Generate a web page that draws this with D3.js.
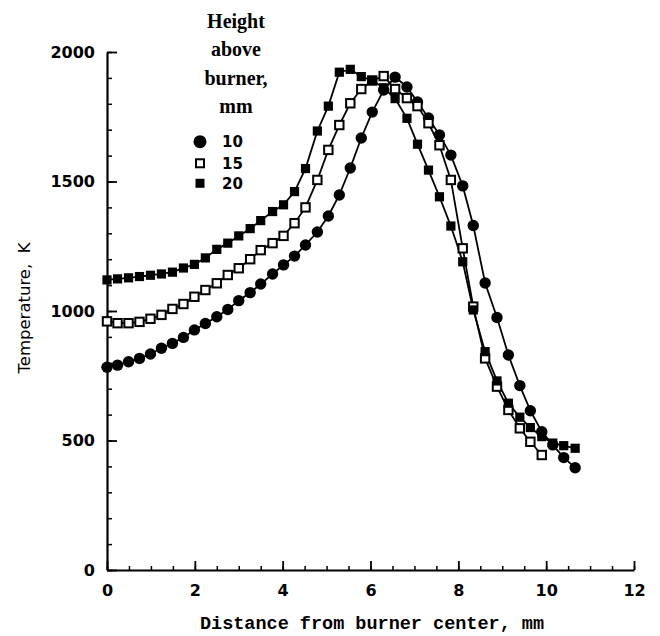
<!DOCTYPE html>
<html>
<head>
<meta charset="utf-8">
<script src="https://cdn.jsdelivr.net/npm/d3@7"></script>
<style>
  body { margin: 0; background: #fff; }
</style>
</head>
<body>
<div id="chart"></div>
<script>
// data (distance in mm, temperature in K)
var distance = [0, 0.24, 0.49, 0.74, 0.99, 1.24, 1.49, 1.74, 1.99, 2.24, 2.5, 2.75, 3.0, 3.26, 3.5, 3.77, 4.02, 4.27, 4.52, 4.79,
                5.04, 5.29, 5.54, 5.79, 6.04, 6.3, 6.56, 6.83, 7.07, 7.32, 7.57, 7.83, 8.1, 8.34, 8.61, 8.88, 9.14, 9.4, 9.64, 9.9,
                10.15, 10.4, 10.66];

var temp10 = [783, 791, 804, 817, 834, 856, 875, 898, 927, 952, 978, 1006, 1040, 1071, 1104, 1143, 1178, 1212, 1255, 1305,
              1367, 1448, 1552, 1668, 1768, 1853, 1903, 1865, 1807, 1745, 1680, 1602, 1483, 1330, 1108, 975, 830, 712, 615, 534,
              483, 434, 395];

var temp15 = [960, 953, 953, 958, 970, 985, 1008, 1027, 1055, 1081, 1107, 1139, 1165, 1200, 1235, 1262, 1290, 1339, 1400, 1506,
              1622, 1718, 1802, 1857, 1890, 1907, 1857, 1822, 1791, 1725, 1640, 1506, 1242, 1017, 817, 708, 618, 547, 495, 444];

var temp20 = [1120, 1124, 1128, 1133, 1138, 1143, 1150, 1166, 1180, 1205, 1238, 1262, 1290, 1318, 1349, 1384, 1410, 1461, 1550, 1695,
              1791, 1922, 1933, 1905, 1890, 1862, 1820, 1744, 1644, 1544, 1441, 1328, 1190, 1004, 843, 730, 644, 590, 550, 515,
              490, 480, 470];

var heights = ["10", "15", "20"];
var legendTitle = ["Height", "above", "burner,", "mm"];
var xTicks = [0, 2, 4, 6, 8, 10, 12];
var yTicks = [0, 500, 1000, 1500, 2000];

drawChart();

function drawChart() {
    var width = 660, height = 636;

    var svg = d3.select("#chart")
        .append("svg")
        .attr("width", width)
        .attr("height", height)
        .style("background", "#fff");

    var x = d3.scaleLinear().domain([0, 12]).range([107, 634]);
    var y = d3.scaleLinear().domain([0, 2000]).range([570, 52]);

    var tickFont = "'DejaVu Sans', sans-serif";

    // minor ticks first
    svg.append("g")
        .attr("transform", "translate(0,570)")
        .call(d3.axisBottom(x).tickValues(d3.range(0, 12.01, 0.5)).tickSize(-4).tickSizeOuter(0).tickFormat(""))
        .call(g => g.select(".domain").remove())
        .selectAll("line").attr("stroke-width", 1.5);

    svg.append("g")
        .attr("transform", "translate(107,0)")
        .call(d3.axisLeft(y).tickValues(d3.range(0, 2001, 100)).tickSize(-5).tickSizeOuter(0).tickFormat(""))
        .call(g => g.select(".domain").remove())
        .selectAll("line").attr("stroke-width", 1.5);

    // main axes
    var xAxis = svg.append("g")
        .attr("transform", "translate(0,570)")
        .call(d3.axisBottom(x).tickValues(xTicks).tickSize(-9).tickSizeOuter(0).tickPadding(15)
              .tickFormat(d3.format("d")));

    var yAxis = svg.append("g")
        .attr("transform", "translate(107,0)")
        .call(d3.axisLeft(y).tickValues(yTicks).tickSize(-10).tickSizeOuter(0).tickPadding(12)
              .tickFormat(d3.format("d")));

    [xAxis, yAxis].forEach(function(g) {
        g.select(".domain").attr("stroke-width", 2.2);
        g.selectAll(".tick line").attr("stroke-width", 1.8);
        g.selectAll(".tick text")
            .attr("fill", "#000")
            .style("font-family", tickFont)
            .style("font-weight", "bold")
            .style("font-size", "16px");
    });

    // axis titles
    svg.append("text")
        .attr("transform", "translate(30,308) rotate(-90)")
        .attr("text-anchor", "middle")
        .style("font-family", tickFont)
        .style("font-size", "16.5px")
        .style("white-space", "pre")
        .attr("xml:space", "preserve")
        .text("Temperature,  K");

    svg.append("text")
        .attr("x", 372)
        .attr("y", 629)
        .attr("text-anchor", "middle")
        .style("font-family", "'Liberation Mono', 'Courier New', monospace")
        .style("font-weight", "bold")
        .style("font-size", "18.5px")
        .text("Distance from burner center, mm");

    // lines
    var series = [
        {name: heights[0], values: temp10},
        {name: heights[1], values: temp15},
        {name: heights[2], values: temp20}
    ];

    var line = d3.line()
        .x((d, i) => x(distance[i]))
        .y(d => y(d));

    svg.selectAll("path.series")
        .data(series)
        .join("path")
        .attr("class", "series")
        .attr("d", d => line(d.values))
        .attr("fill", "none")
        .attr("stroke", "#000")
        .attr("stroke-width", 1.8);

    // markers
    svg.append("g").selectAll("circle")
        .data(temp10)
        .join("circle")
        .attr("cx", (d, i) => x(distance[i]))
        .attr("cy", d => y(d))
        .attr("r", 5.7)
        .attr("fill", "#000");

    svg.append("g").selectAll("rect")
        .data(temp15)
        .join("rect")
        .attr("x", (d, i) => x(distance[i]) - 4.2)
        .attr("y", d => y(d) - 4.2)
        .attr("width", 8.4)
        .attr("height", 8.4)
        .attr("fill", "#fff")
        .attr("stroke", "#000")
        .attr("stroke-width", 2);

    svg.append("g").selectAll("rect")
        .data(temp20)
        .join("rect")
        .attr("x", (d, i) => x(distance[i]) - 4.6)
        .attr("y", d => y(d) - 4.6)
        .attr("width", 9.2)
        .attr("height", 9.2)
        .attr("fill", "#000");

    // legend
    svg.append("g").selectAll("text")
        .data(legendTitle)
        .join("text")
        .attr("x", 236)
        .attr("y", (d, i) => 28 + i * 28.3)
        .attr("text-anchor", "middle")
        .style("font-family", "'Liberation Serif', 'Times New Roman', serif")
        .style("font-weight", "bold")
        .style("font-size", "20px")
        .text(d => d);

    var legendY = [141.7, 163.3, 183.3];
    var legend = svg.append("g");

    legend.append("circle")
        .attr("cx", 200).attr("cy", legendY[0]).attr("r", 6.5).attr("fill", "#000");
    legend.append("rect")
        .attr("x", 196).attr("y", legendY[1] - 4).attr("width", 8).attr("height", 8)
        .attr("fill", "#fff").attr("stroke", "#000").attr("stroke-width", 2);
    legend.append("rect")
        .attr("x", 195.5).attr("y", legendY[2] - 4.5).attr("width", 9).attr("height", 9)
        .attr("fill", "#000");

    legend.selectAll("text")
        .data(heights)
        .join("text")
        .attr("x", 222)
        .attr("y", (d, i) => legendY[i] + 5.5)
        .style("font-family", tickFont)
        .style("font-weight", "bold")
        .style("font-size", "15px")
        .text(d => d);
}
</script>
</body>
</html>
